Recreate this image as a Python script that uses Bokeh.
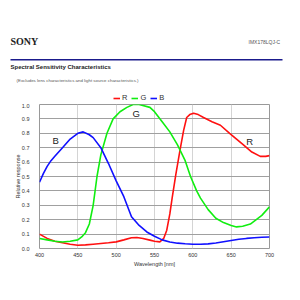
from bokeh.plotting import figure
from bokeh.models import Label, Range1d, Legend, LegendItem, FixedTicker, CustomJSTickFormatter
from bokeh.core.properties import value
from bokeh.embed import file_html
from bokeh.resources import INLINE

# ---- data ----
blue_nm = [400, 405, 410, 415, 420, 430, 440, 450, 457, 465, 470, 480, 490, 500, 510, 520, 530, 540,
           550, 560, 570, 580, 590, 600, 610, 620, 630, 640, 650, 660, 670, 680, 690, 700]
blue_val = [0.46, 0.52, 0.57, 0.61, 0.64, 0.70, 0.76, 0.80, 0.81, 0.79, 0.77, 0.70, 0.59, 0.47, 0.36,
            0.22, 0.16, 0.115, 0.085, 0.06, 0.045, 0.037, 0.033, 0.03, 0.03, 0.032, 0.038, 0.047,
            0.056, 0.064, 0.07, 0.075, 0.078, 0.08]

green_nm = [400, 410, 420, 430, 440, 450, 455, 460, 465, 470, 475, 480, 488, 496, 505, 514, 522, 530,
            544, 550, 560, 570, 580, 590, 597, 605, 610, 620, 630, 640, 650, 657, 665, 675, 690, 700]
green_val = [0.07, 0.06, 0.05, 0.045, 0.05, 0.06, 0.08, 0.11, 0.17, 0.30, 0.50, 0.65, 0.80, 0.90,
             0.95, 0.98, 1.0, 1.0, 0.98, 0.95, 0.88, 0.81, 0.72, 0.61, 0.50, 0.40, 0.35, 0.27, 0.21,
             0.18, 0.16, 0.15, 0.155, 0.17, 0.23, 0.29]

red_nm = [400, 410, 420, 430, 440, 450, 460, 470, 480, 490, 500, 510, 520, 527, 535, 544, 550, 557,
          562, 566, 570, 573, 578, 583.5, 588, 592, 596, 601, 607, 614, 625, 636, 648, 657, 666, 677,
          688, 695, 700]
red_val = [0.10, 0.07, 0.05, 0.04, 0.03, 0.023, 0.025, 0.03, 0.035, 0.04, 0.046, 0.06, 0.075, 0.076,
           0.07, 0.058, 0.05, 0.046, 0.07, 0.127, 0.24, 0.35, 0.52, 0.69, 0.82, 0.91, 0.93, 0.94,
           0.93, 0.91, 0.88, 0.856, 0.80, 0.76, 0.72, 0.67, 0.64, 0.64, 0.645]

x_ticks = [400, 450, 500, 550, 600, 650, 700]
y_ticks = [0.0, 0.1, 0.2, 0.3, 0.4, 0.5, 0.6, 0.7, 0.8, 0.9, 1.0]

series_names = ["R", "G", "B"]
series_colors = ["#ff1010", "#10ee10", "#1010ff"]

header_main = "SONY"
header_part = "IMX178LQJ-C"
chart_title = "Spectral Sensitivity Characteristics"
chart_note = "(Excludes lens characteristics and light source characteristics.)"

FONT = "Liberation Sans"
HEAD_H = 103  # header strip height (pixels)

# ---------------- header strip (pixel coordinate space) ----------------
head = figure(width=300, height=HEAD_H, output_backend="svg", toolbar_location=None,
              x_range=Range1d(0, 300), y_range=Range1d(HEAD_H, 0),
              x_axis_location=None, y_axis_location=None,
              min_border=0, outline_line_color=None)
head.grid.visible = False
head.text(x=[10], y=[41], text=[header_main], text_font=value("Liberation Serif"),
          text_font_style="bold", text_font_size="10px", text_baseline="middle",
          text_color="#222222")
head.text(x=[248], y=[41], text=[header_part], text_font=value(FONT),
          text_font_size="5px", text_baseline="middle", text_color="#555555")
head.line(x=[10, 282], y=[59.3, 59.3], line_color="#1a1a8c", line_width=1.5)
head.text(x=[10], y=[66], text=[chart_title], text_font=value(FONT),
          text_font_style="bold", text_font_size="6px", text_baseline="middle",
          text_color="#222222")
head.text(x=[16], y=[80], text=[chart_note], text_font=value(FONT),
          text_font_size="4.4px", text_baseline="middle", text_color="#555555")

# legend lives in the header strip (swatch renderers sit outside the visible range)
swatches = [head.line(x=[-20, -10], y=[-20, -20], line_color=c, line_width=1.6)
            for c in series_colors]
legend = Legend(items=[LegendItem(label=n, renderers=[r]) for n, r in zip(series_names, swatches)],
                orientation="horizontal", location=(113, 1),
                background_fill_alpha=0, border_line_color=None,
                glyph_width=7, glyph_height=8, label_width=5, label_standoff=2, spacing=4,
                padding=0, margin=0, label_text_font=FONT, label_text_font_size="7.5px",
                label_text_color="#333333", label_height=8)
head.add_layout(legend, "center")

# ---------------- chart ----------------
L, R, T, B = 39, 269, 104, 248
p = figure(width=300, height=300 - HEAD_H, output_backend="svg", toolbar_location=None,
           x_range=Range1d(400, 700), y_range=Range1d(0, 1.0),
           min_border_left=L, min_border_right=300 - R, min_border_top=T - HEAD_H,
           min_border_bottom=300 - B)
p.background_fill_color = "white"
p.border_fill_color = "white"
p.outline_line_color = "#999999"
p.outline_line_width = 1

p.xaxis.ticker = FixedTicker(ticks=x_ticks)
p.yaxis.ticker = FixedTicker(ticks=y_ticks)
p.yaxis.formatter = CustomJSTickFormatter(code="return tick.toFixed(1);")
for ax in (p.xaxis, p.yaxis):
    ax.axis_line_color = None
    ax.major_tick_line_color = None
    ax.minor_tick_line_color = None
    ax.major_tick_out = 0
    ax.major_tick_in = 0
    ax.minor_tick_out = 0
    ax.major_label_text_font = FONT
    ax.major_label_text_font_size = "5.5px"
    ax.major_label_text_color = "#333333"
    ax.axis_label_text_font = FONT
    ax.axis_label_text_font_size = "5.5px"
    ax.axis_label_text_font_style = "normal"
    ax.axis_label_text_color = "#333333"
p.yaxis.major_label_standoff = 10
p.xaxis.major_label_standoff = 4
p.yaxis.axis_label = "Relative response"
p.xaxis.axis_label = "Wavelength [nm]"
p.yaxis.axis_label_standoff = -2
p.xaxis.axis_label_standoff = 1

p.xgrid.grid_line_color = "#d4d4d4"
p.ygrid.grid_line_color = "#a0a0a0"

for nm, val, c in [(red_nm, red_val, series_colors[0]), (green_nm, green_val, series_colors[1]),
                   (blue_nm, blue_val, series_colors[2])]:
    p.line(nm, val, line_color=c, line_width=1.6)

# curve labels
for t, x, y in [("B", 421, 0.75), ("G", 526, 0.935), ("R", 674, 0.74)]:
    p.add_layout(Label(x=x, y=y, text=t, text_font=FONT, text_font_size="9.5px",
                       text_align="center", text_baseline="middle", text_color="#222222"))

# two independent roots stacked vertically (no frame alignment between them)
open("out.html", "w").write(file_html([head, p], INLINE))
